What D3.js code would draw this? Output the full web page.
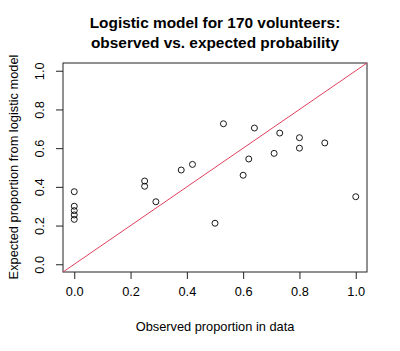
<!DOCTYPE html>
<html>
<head>
<meta charset="utf-8">
<script src="https://cdn.jsdelivr.net/npm/d3@7"></script>
<style>
  body { margin: 0; background: #fff; }
  text { font-family: "Liberation Sans", Arial, sans-serif; fill: #000; }
</style>
</head>
<body>
<div id="chart_div"></div>
<script>
const observed = [0, 0, 0, 0, 0, 0.25, 0.25, 0.29, 0.38, 0.42, 0.50, 0.53, 0.60, 0.62, 0.64, 0.71, 0.73, 0.80, 0.80, 0.89, 1.0];
const expected = [0.375, 0.30, 0.277, 0.255, 0.232, 0.43, 0.403, 0.323, 0.487, 0.516, 0.212, 0.726, 0.46, 0.544, 0.704, 0.573, 0.678, 0.654, 0.60, 0.627, 0.349];
const ticks = [0, 0.2, 0.4, 0.6, 0.8, 1.0];
const titleLines = ["Logistic model for 170 volunteers:", "observed vs. expected probability"];

const width = 400;
const height = 351;
const margin = { left: 63, right: 33, top: 63, bottom: 79 };

const svg = d3.select("#chart_div")
    .append("svg")
    .attr("width", width)
    .attr("height", height);

const x = d3.scaleLinear()
    .domain([-0.04, 1.04])
    .range([margin.left, width - margin.right]);

const y = d3.scaleLinear()
    .domain([-0.04, 1.04])
    .range([height - margin.bottom, margin.top]);

// Title
svg.append("g")
    .selectAll("text")
    .data(titleLines)
    .enter()
    .append("text")
    .attr("x", 215)
    .attr("y", (d, i) => 28 + i * 20)
    .attr("text-anchor", "middle")
    .style("font-size", "15.4px")
    .style("font-weight", "bold")
    .text(d => d);

// Axes
const xAxis = svg.append("g")
    .attr("transform", `translate(0,${height - margin.bottom})`)
    .call(d3.axisBottom(x).tickValues(ticks).tickFormat(d3.format(".1f")).tickSize(7).tickPadding(8));

const yAxis = svg.append("g")
    .attr("transform", `translate(${margin.left},0)`)
    .call(d3.axisLeft(y).tickValues(ticks).tickFormat(d3.format(".1f")).tickSize(7).tickPadding(8));

[xAxis, yAxis].forEach(g => {
    g.select(".domain").remove();
    g.selectAll("line").attr("stroke", "#222");
    g.selectAll("text").style("font-size", "12.8px").style("font-family", "Liberation Sans, Arial, sans-serif");
});

xAxis.selectAll("text").attr("dy", "0.71em");

yAxis.selectAll("text")
    .attr("transform", d => `rotate(-90, -23, 0)`)
    .attr("x", -23)
    .attr("dy", "0.35em")
    .attr("text-anchor", "middle");

// Box
svg.append("rect")
    .attr("x", margin.left)
    .attr("y", margin.top)
    .attr("width", width - margin.left - margin.right)
    .attr("height", height - margin.top - margin.bottom)
    .attr("fill", "none")
    .attr("stroke", "#222");

// Axis titles
svg.append("text")
    .attr("x", 215)
    .attr("y", 331)
    .attr("text-anchor", "middle")
    .style("font-size", "12.8px")
    .text("Observed proportion in data");

svg.append("text")
    .attr("transform", "translate(18,167) rotate(-90)")
    .attr("text-anchor", "middle")
    .style("font-size", "12.8px")
    .text("Expected proportion from logistic model");

// Reference line y = x
svg.append("line")
    .attr("x1", x(-0.04))
    .attr("y1", y(-0.04))
    .attr("x2", x(1.04))
    .attr("y2", y(1.04))
    .attr("stroke", "#E0405E")
    .attr("stroke-width", 1);

// Points
svg.append("g")
    .selectAll("circle")
    .data(observed)
    .enter()
    .append("circle")
    .attr("cx", d => x(d))
    .attr("cy", (d, i) => y(expected[i]))
    .attr("r", 3)
    .attr("fill", "none")
    .attr("stroke", "#000")
    .attr("stroke-width", 0.9);
</script>
</body>
</html>
